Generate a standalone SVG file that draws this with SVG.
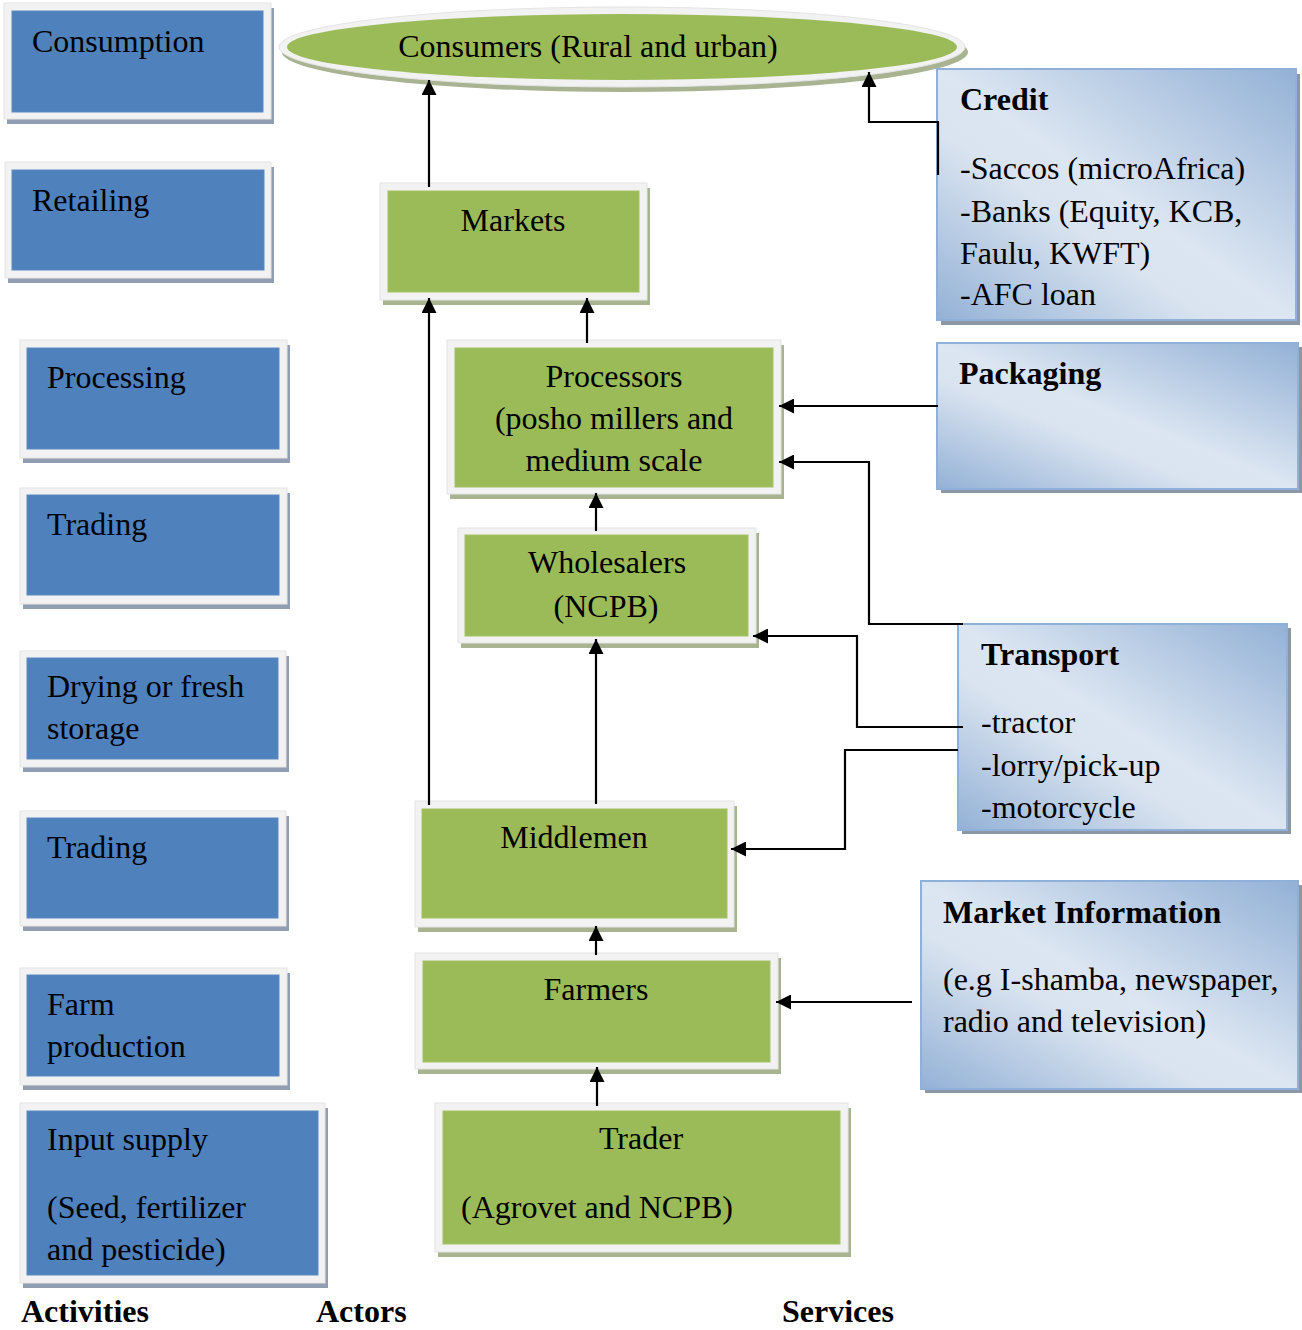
<svg xmlns="http://www.w3.org/2000/svg" width="1302" height="1330" viewBox="0 0 1302 1330">
<style>
text{font-family:"Liberation Serif","Times New Roman",serif;font-size:32px;fill:#000}
.b{font-weight:bold}
.m{text-anchor:middle}
.frame{fill:#f2f2f2;stroke:#e4e4e4;stroke-width:1}
.bs{fill:#919eb2}
.gs{fill:#a8b391}
.bi{fill:#4f81bd;stroke:#5a89c2;stroke-width:1}
.gi{fill:#9bbb59;stroke:#a4c265;stroke-width:1}
.svc{fill:url(#sg);stroke:#8fb0d8;stroke-width:2}
.ss{fill:#8c97a6}
.c{fill:none;stroke:#000;stroke-width:2.2;marker-end:url(#ah)}
</style>
<defs>
<linearGradient id="sg" x1="1" y1="0" x2="0" y2="1">
<stop offset="0" stop-color="#93b1d6"/>
<stop offset="0.5" stop-color="#dce6f2"/>
<stop offset="0.62" stop-color="#dae4f0"/>
<stop offset="1" stop-color="#93b1d6"/>
</linearGradient>
<marker id="ah" markerUnits="userSpaceOnUse" markerWidth="15" markerHeight="15" viewBox="0 0 15 15" refX="15" refY="7.5" orient="auto">
<path d="M0,0 L15,7.5 L0,15 z" fill="#000"/>
</marker>
</defs>
<rect width="1302" height="1330" fill="#fff"/>

<!-- Activities -->
<g id="consumption"><rect class="bs" x="7" y="8" width="267" height="116"/><rect class="frame" x="4" y="3" width="267" height="116"/><rect class="bi" x="12" y="11" width="251" height="101"/><text x="32" y="52">Consumption</text></g>
<g id="retailing"><rect class="bs" x="8" y="167" width="266" height="116"/><rect class="frame" x="5" y="162" width="266" height="116"/><rect class="bi" x="12" y="170" width="252" height="100"/><text x="32" y="211">Retailing</text></g>
<g id="processing"><rect class="bs" x="23" y="345" width="267" height="118"/><rect class="frame" x="20" y="340" width="267" height="118"/><rect class="bi" x="27" y="348" width="252" height="101"/><text x="47" y="388">Processing</text></g>
<g id="trading1"><rect class="bs" x="23" y="493" width="267" height="116"/><rect class="frame" x="20" y="488" width="267" height="116"/><rect class="bi" x="27" y="495" width="252" height="100"/><text x="47" y="535">Trading</text></g>
<g id="drying"><rect class="bs" x="23" y="656" width="266" height="116"/><rect class="frame" x="20" y="651" width="266" height="116"/><rect class="bi" x="27" y="658" width="251" height="101"/><text x="47" y="697">Drying or fresh</text><text x="47" y="739">storage</text></g>
<g id="trading2"><rect class="bs" x="23" y="816" width="266" height="115"/><rect class="frame" x="20" y="811" width="266" height="115"/><rect class="bi" x="27" y="818" width="251" height="100"/><text x="47" y="858">Trading</text></g>
<g id="farm-production"><rect class="bs" x="23" y="973" width="267" height="117"/><rect class="frame" x="20" y="968" width="267" height="117"/><rect class="bi" x="27" y="975" width="252" height="101"/><text x="47" y="1015">Farm</text><text x="47" y="1057">production</text></g>
<g id="input-supply"><rect class="bs" x="23" y="1108" width="305" height="180"/><rect class="frame" x="20" y="1103" width="305" height="180"/><rect class="bi" x="27" y="1111" width="291" height="164"/><text x="47" y="1150">Input supply</text><text x="47" y="1218">(Seed, fertilizer</text><text x="47" y="1260">and pesticide)</text></g>

<!-- Actors -->
<g id="consumers"><ellipse cx="625" cy="52" rx="343" ry="40" fill="#a8b391"/><ellipse cx="622" cy="47" rx="343" ry="40" fill="#f2f2f2" stroke="#e4e4e4"/><ellipse cx="622" cy="47" rx="335" ry="33" fill="#9bbb59"/><text class="m" x="588" y="57">Consumers (Rural and urban)</text></g>
<g id="markets"><rect class="gs" x="383" y="188" width="267" height="117"/><rect class="frame" x="380" y="183" width="267" height="117"/><rect class="gi" x="388" y="191" width="251" height="101"/><text class="m" x="513" y="231">Markets</text></g>
<g id="processors"><rect class="gs" x="450" y="345" width="334" height="154"/><rect class="frame" x="447" y="340" width="334" height="154"/><rect class="gi" x="455" y="348" width="318" height="139"/><text class="m" x="614" y="387">Processors</text><text class="m" x="614" y="429">(posho millers and</text><text class="m" x="614" y="471">medium scale</text></g>
<g id="wholesalers"><rect class="gs" x="461" y="533" width="298" height="115"/><rect class="frame" x="458" y="528" width="298" height="115"/><rect class="gi" x="465" y="535" width="283" height="101"/><text class="m" x="607" y="573">Wholesalers</text><text class="m" x="606" y="617">(NCPB)</text></g>
<g id="middlemen"><rect class="gs" x="418" y="806" width="319" height="126"/><rect class="frame" x="415" y="801" width="319" height="126"/><rect class="gi" x="422" y="809" width="305" height="109"/><text class="m" x="574" y="848">Middlemen</text></g>
<g id="farmers"><rect class="gs" x="418" y="958" width="363" height="116"/><rect class="frame" x="415" y="953" width="363" height="116"/><rect class="gi" x="423" y="961" width="347" height="101"/><text class="m" x="596" y="1000">Farmers</text></g>
<g id="trader"><rect class="gs" x="438" y="1108" width="413" height="149"/><rect class="frame" x="435" y="1103" width="413" height="149"/><rect class="gi" x="443" y="1111" width="397" height="133"/><text class="m" x="641" y="1149">Trader</text><text x="461" y="1218">(Agrovet and NCPB)</text></g>

<!-- Services -->
<g id="credit"><rect class="ss" x="941" y="74" width="359" height="251"/><rect class="svc" x="937" y="69" width="359" height="251"/><text class="b" x="960" y="110">Credit</text><text x="960" y="179">-Saccos (microAfrica)</text><text x="960" y="222">-Banks (Equity, KCB,</text><text x="960" y="264">Faulu, KWFT)</text><text x="960" y="305">-AFC loan</text></g>
<g id="packaging"><rect class="ss" x="941" y="347" width="361" height="146"/><rect class="svc" x="937" y="343" width="361" height="146"/><text class="b" x="959" y="384">Packaging</text></g>
<g id="transport"><rect class="ss" x="962" y="628" width="329" height="206"/><rect class="svc" x="958" y="624" width="329" height="206"/><text class="b" x="981" y="665">Transport</text><text x="981" y="733">-tractor</text><text x="981" y="776">-lorry/pick-up</text><text x="981" y="818">-motorcycle</text></g>
<g id="market-information"><rect class="ss" x="925" y="885" width="377" height="208"/><rect class="svc" x="921" y="881" width="377" height="208"/><text class="b" x="943" y="923">Market Information</text><text x="943" y="990">(e.g I-shamba, newspaper,</text><text x="943" y="1032">radio and television)</text></g>

<!-- Column labels -->
<g id="labels"><text class="b" x="21" y="1322">Activities</text><text class="b" x="316" y="1322">Actors</text><text class="b" x="782" y="1322">Services</text></g>

<!-- Connectors -->
<g id="connectors">
<path class="c" d="M429,187 L429,80"/>
<path class="c" d="M429,805 L429,298"/>
<path class="c" d="M587,343 L587,298"/>
<path class="c" d="M596,531 L596,493"/>
<path class="c" d="M596,804 L596,639"/>
<path class="c" d="M596,955 L596,926"/>
<path class="c" d="M597,1106 L597,1067"/>
<path class="c" d="M938,175 L938,122 L869,122 L869,72"/>
<path class="c" d="M938,406 L779,406"/>
<path class="c" d="M963,624 L869,624 L869,462 L779,462"/>
<path class="c" d="M963,727 L857,727 L857,636 L753,636"/>
<path class="c" d="M958,750 L845,750 L845,849 L731,849"/>
<path class="c" d="M912,1002 L776,1002"/>
</g>
</svg>
